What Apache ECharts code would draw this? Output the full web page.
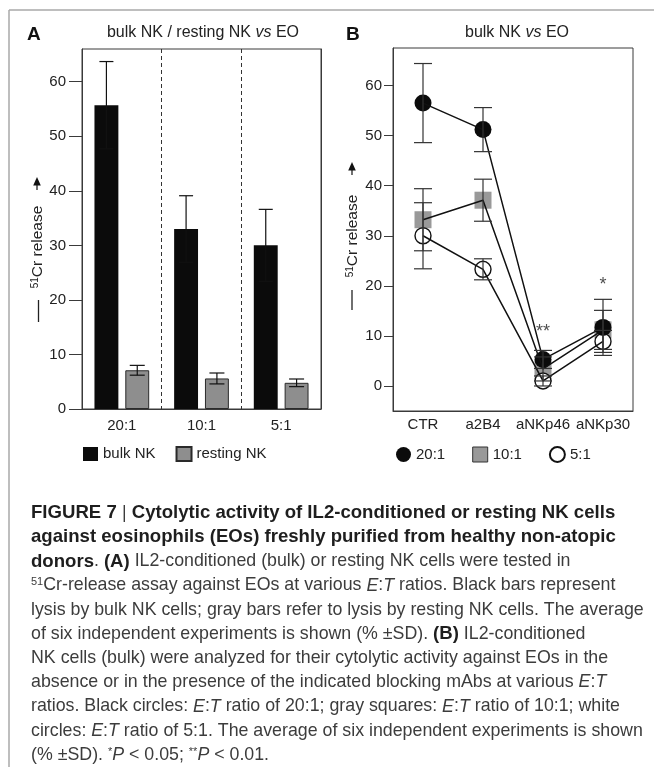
<!DOCTYPE html>
<html><head><meta charset="utf-8">
<script src="https://cdn.jsdelivr.net/npm/echarts@6/dist/echarts.min.js"></script>
<style>html,body{margin:0;padding:0;background:#fff}#c{width:654px;height:777px}</style>
</head><body><div id="c"></div>
<script>
// ---------- Panel A data ----------
const ratiosA = ['20:1', '10:1', '5:1'];
const bulkMean = [55.7, 33.0, 30.0];
const bulkSD = [8.0, 6.1, 6.6];
const restMean = [7.1, 5.6, 4.8];
const restSD = [0.9, 1.0, 0.7];
const yTicksA = [0, 10, 20, 30, 40, 50, 60];

// ---------- Panel B data ----------
const treatB = ['CTR', 'a2B4', 'aNKp46', 'aNKp30'];
const r20Mean = [56.5, 51.2, 5.3, 11.7];
const r20SD = [7.9, 4.4, 1.8, 5.6];
const r10Mean = [33.2, 37.1, 3.4, 11.2];
const r10SD = [6.2, 4.2, 2.4, 3.9];
const r5Mean = [30.0, 23.3, 1.0, 8.9];
const r5SD = [6.6, 2.1, 1.0, 2.2];
const yTicksB = [0, 10, 20, 30, 40, 50, 60];
const sigText = ['', '', '**', '*'];
const sigY = [null, null, 10.7, 20.1];

const FF = 'Liberation Sans, Arial, Helvetica, sans-serif';
function st(size, weight, style, color, extra) {
  return Object.assign({fontSize: size, fontFamily: FF, fontWeight: weight || 'normal',
    fontStyle: style || 'normal', fill: color}, extra || {});
}

function errRender(offsetFrac, hw, color) {
  return function (params, api) {
    const i = api.value(0), m = api.value(1), s = api.value(2);
    const band = api.size([1, 0])[0];
    const t = api.coord([i, m + s]), b = api.coord([i, m - s]);
    const x = t[0] + band * offsetFrac;
    const sty = {stroke: color, lineWidth: 1.2};
    return {type: 'group', children: [
      {type: 'line', shape: {x1: x, y1: t[1], x2: x, y2: b[1]}, style: sty},
      {type: 'line', shape: {x1: x - hw, y1: t[1], x2: x + hw, y2: t[1]}, style: sty},
      {type: 'line', shape: {x1: x - hw, y1: b[1], x2: x + hw, y2: b[1]}, style: sty}
    ]};
  };
}
function errData(mean, sd) { return mean.map((m, i) => [i, m, sd[i]]); }

const axisCol = '#3a3a3a';
const txtCol = '#222';
const lblStyle = {fontSize: 15, color: txtCol, fontFamily: FF};

// caption
const capRich = {
  r: st(17.8, 'normal', 'normal', '#3c3c3c'),
  i: st(17.8, 'normal', 'italic', '#3c3c3c'),
  b: st(18.6, 'bold', 'normal', '#1e1e1e'),
  sup: st(11, 'normal', 'normal', '#3c3c3c', {verticalAlign: 'top'})
};
const capLines = [
  '{b|FIGURE 7 }{r||}{b| Cytolytic activity of IL2-conditioned or resting NK cells}',
  '{b|against eosinophils (EOs) freshly purified from healthy non-atopic}',
  '{b|donors}{r|. }{b|(A)}{r| IL2-conditioned (bulk) or resting NK cells were tested in}',
  '{sup|51}{r|Cr-release assay against EOs at various }{i|E}{r|:}{i|T}{r| ratios. Black bars represent}',
  '{r|lysis by bulk NK cells; gray bars refer to lysis by resting NK cells. The average}',
  '{r|of six independent experiments is shown (% \u00b1SD). }{b|(B)}{r| IL2-conditioned}',
  '{r|NK cells (bulk) were analyzed for their cytolytic activity against EOs in the}',
  '{r|absence or in the presence of the indicated blocking mAbs at various }{i|E}{r|:}{i|T}',
  '{r|ratios. Black circles: }{i|E}{r|:}{i|T}{r| ratio of 20:1; gray squares: }{i|E}{r|:}{i|T}{r| ratio of 10:1; white}',
  '{r|circles: }{i|E}{r|:}{i|T}{r| ratio of 5:1. The average of six independent experiments is shown}',
  '{r|(% \u00b1SD). }{sup|*}{i|P}{r| < 0.05; }{sup|**}{i|P}{r| < 0.01.}'
];
const capGraphics = capLines.map((t, k) => ({
  type: 'text', x: 31, y: 513 + k * 24.2,
  style: Object.assign(st(17.8, 'normal', 'normal', '#3c3c3c'),
    {text: t, rich: capRich, align: 'left', verticalAlign: 'middle'})
}));

const yLabRich = {
  n: st(15.5, 'normal', 'normal', txtCol),
  sup: st(10, 'normal', 'normal', txtCol, {verticalAlign: 'top'})
};
function yLabel(x, y) {
  return {type: 'text', x: x, y: y, rotation: Math.PI / 2,
    style: Object.assign(st(15.5, 'normal', 'normal', txtCol),
      {text: '{sup|51}{n|Cr release}', rich: yLabRich, align: 'center', verticalAlign: 'middle'})};
}
function arrow(x, yTop) {
  return [
    {type: 'polygon', shape: {points: [[x, yTop], [x - 3.8, yTop + 8.5], [x + 3.8, yTop + 8.5]]}, style: {fill: '#111'}},
    {type: 'line', shape: {x1: x, y1: yTop + 8, x2: x, y2: yTop + 13}, style: {stroke: '#111', lineWidth: 1.2}}
  ];
}
function dash(x, y1, y2) {
  return {type: 'line', shape: {x1: x, y1: y1, x2: x, y2: y2}, style: {stroke: '#222', lineWidth: 1.3}};
}

const titleRich = {
  n: st(16, 'normal', 'normal', txtCol),
  i: st(16, 'normal', 'italic', txtCol)
};

const chart = echarts.init(document.getElementById('c'), null, {renderer: 'canvas'});
chart.setOption({
  animation: false,
  backgroundColor: '#fff',
  grid: [
    {left: 82, top: 49, width: 239, height: 360, show: true, borderColor: axisCol, borderWidth: 1, backgroundColor: 'transparent'},
    {left: 393, top: 48, width: 240, height: 363, show: true, borderColor: axisCol, borderWidth: 1, backgroundColor: 'transparent'}
  ],
  xAxis: [
    {gridIndex: 0, type: 'category', data: ratiosA, boundaryGap: true,
      axisLine: {show: true, onZero: false, lineStyle: {color: axisCol}}, axisTick: {show: false},
      axisLabel: Object.assign({margin: 9}, lblStyle),
      splitLine: {show: true, interval: 0, lineStyle: {type: [4, 3], color: '#333', width: 1}}},
    {gridIndex: 1, type: 'category', data: treatB, boundaryGap: true,
      axisLine: {show: true, onZero: false, lineStyle: {color: axisCol}}, axisTick: {show: false},
      axisLabel: Object.assign({margin: 6, interval: 0}, lblStyle),
      splitLine: {show: false}}
  ],
  yAxis: [
    {gridIndex: 0, type: 'value', min: 0, max: 66,
      axisLine: {show: true, lineStyle: {color: axisCol}},
      axisTick: {show: true, length: 13, customValues: yTicksA, lineStyle: {color: axisCol}},
      axisLabel: Object.assign({margin: 16, customValues: yTicksA}, lblStyle),
      splitLine: {show: false}},
    {gridIndex: 1, type: 'value', min: -5, max: 67.5,
      axisLine: {show: true, lineStyle: {color: axisCol}},
      axisTick: {show: true, length: 9, customValues: yTicksB, lineStyle: {color: axisCol}},
      axisLabel: Object.assign({margin: 11, customValues: yTicksB}, lblStyle),
      splitLine: {show: false}},
    {gridIndex: 0, type: 'value', position: 'right', min: 0, max: 66,
      axisLine: {show: true, lineStyle: {color: axisCol}},
      axisTick: {show: false}, axisLabel: {show: false}, splitLine: {show: false}}
  ],
  legend: [
    {left: 83, top: 446, padding: 0, icon: 'rect', itemWidth: 15, itemHeight: 14, itemGap: 20,
      selectedMode: false, data: ['bulk NK', 'resting NK'], textStyle: lblStyle},
    {left: 396, top: 446, padding: 0, itemWidth: 15, itemHeight: 15, itemGap: 27,
      selectedMode: false,
      data: [{name: '20:1'}, {name: '10:1', itemStyle: {borderColor: '#333', borderWidth: 1}}, {name: '5:1'}],
      textStyle: lblStyle}
  ],
  series: [
    {name: 'bulk NK', type: 'bar', xAxisIndex: 0, yAxisIndex: 0, data: bulkMean,
      barWidth: '30%', barGap: '29%', itemStyle: {color: '#0b0b0b'}},
    {name: 'resting NK', type: 'bar', xAxisIndex: 0, yAxisIndex: 0, data: restMean,
      barWidth: '30%', barGap: '29%', itemStyle: {color: '#8e8e8e', borderColor: '#2a2a2a', borderWidth: 1}},
    {type: 'custom', xAxisIndex: 0, yAxisIndex: 0, z: 5, data: errData(bulkMean, bulkSD),
      encode: {x: 0, y: 1}, renderItem: errRender(-0.1935, 7, '#111')},
    {type: 'custom', xAxisIndex: 0, yAxisIndex: 0, z: 5, data: errData(restMean, restSD),
      encode: {x: 0, y: 1}, renderItem: errRender(0.1935, 7.5, '#111')},

    {name: '10:1', type: 'scatter', xAxisIndex: 1, yAxisIndex: 1, z: 1, data: r10Mean,
      symbol: 'rect', symbolSize: 17, itemStyle: {color: '#999999', opacity: 1}},
    {name: '5:1', type: 'scatter', xAxisIndex: 1, yAxisIndex: 1, z: 1, data: r5Mean,
      symbol: 'circle', symbolSize: 16, itemStyle: {color: '#ffffff', borderColor: '#111', borderWidth: 1.4, opacity: 1}},
    {name: '20:1', type: 'scatter', xAxisIndex: 1, yAxisIndex: 1, z: 1, data: r20Mean,
      symbol: 'circle', symbolSize: 17, itemStyle: {color: '#0b0b0b', opacity: 1}},
    {name: '20:1 line', type: 'line', xAxisIndex: 1, yAxisIndex: 1, z: 3, data: r20Mean,
      symbol: 'none', lineStyle: {color: '#111', width: 1.5}},
    {name: '10:1 line', type: 'line', xAxisIndex: 1, yAxisIndex: 1, z: 3, data: r10Mean,
      symbol: 'none', lineStyle: {color: '#111', width: 1.5}},
    {name: '5:1 line', type: 'line', xAxisIndex: 1, yAxisIndex: 1, z: 3, data: r5Mean,
      symbol: 'none', lineStyle: {color: '#111', width: 1.5}},
    {type: 'custom', xAxisIndex: 1, yAxisIndex: 1, z: 4, data: errData(r20Mean, r20SD),
      encode: {x: 0, y: 1}, renderItem: errRender(0, 9, '#333')},
    {type: 'custom', xAxisIndex: 1, yAxisIndex: 1, z: 4, data: errData(r10Mean, r10SD),
      encode: {x: 0, y: 1}, renderItem: errRender(0, 9, '#333')},
    {type: 'custom', xAxisIndex: 1, yAxisIndex: 1, z: 4, data: errData(r5Mean, r5SD),
      encode: {x: 0, y: 1}, renderItem: errRender(0, 9, '#333')},
    {type: 'scatter', xAxisIndex: 1, yAxisIndex: 1, z: 6,
      data: sigY.map(v => (v === null ? '-' : v)), symbolSize: 1,
      itemStyle: {color: 'transparent'},
      label: {show: true, position: 'inside', formatter: p => sigText[p.dataIndex],
        fontSize: 18, color: '#222', fontFamily: FF}}
  ],
  graphic: [
    {type: 'line', shape: {x1: 9, y1: 10, x2: 654, y2: 10}, style: {stroke: '#a8a8a8', lineWidth: 1.5}},
    {type: 'line', shape: {x1: 9, y1: 10, x2: 9, y2: 767}, style: {stroke: '#a8a8a8', lineWidth: 1.5}},
    {type: 'text', x: 27, y: 35, style: Object.assign(st(19, 'bold', 'normal', '#111'), {text: 'A', align: 'left', verticalAlign: 'middle'})},
    {type: 'text', x: 346, y: 35, style: Object.assign(st(19, 'bold', 'normal', '#111'), {text: 'B', align: 'left', verticalAlign: 'middle'})},
    {type: 'text', x: 203, y: 33, style: Object.assign(st(16, 'normal', 'normal', txtCol),
      {text: '{n|bulk NK / resting NK }{i|vs}{n| EO}', rich: titleRich, align: 'center', verticalAlign: 'middle'})},
    {type: 'text', x: 517, y: 33, style: Object.assign(st(16, 'normal', 'normal', txtCol),
      {text: '{n|bulk NK }{i|vs}{n| EO}', rich: titleRich, align: 'center', verticalAlign: 'middle'})},
    yLabel(38, 247),
    dash(38.5, 300, 322),
    ...arrow(37, 177),
    yLabel(353, 236),
    dash(352, 290, 310),
    ...arrow(352, 162),
    ...capGraphics
  ]
});
</script>
</body></html>
